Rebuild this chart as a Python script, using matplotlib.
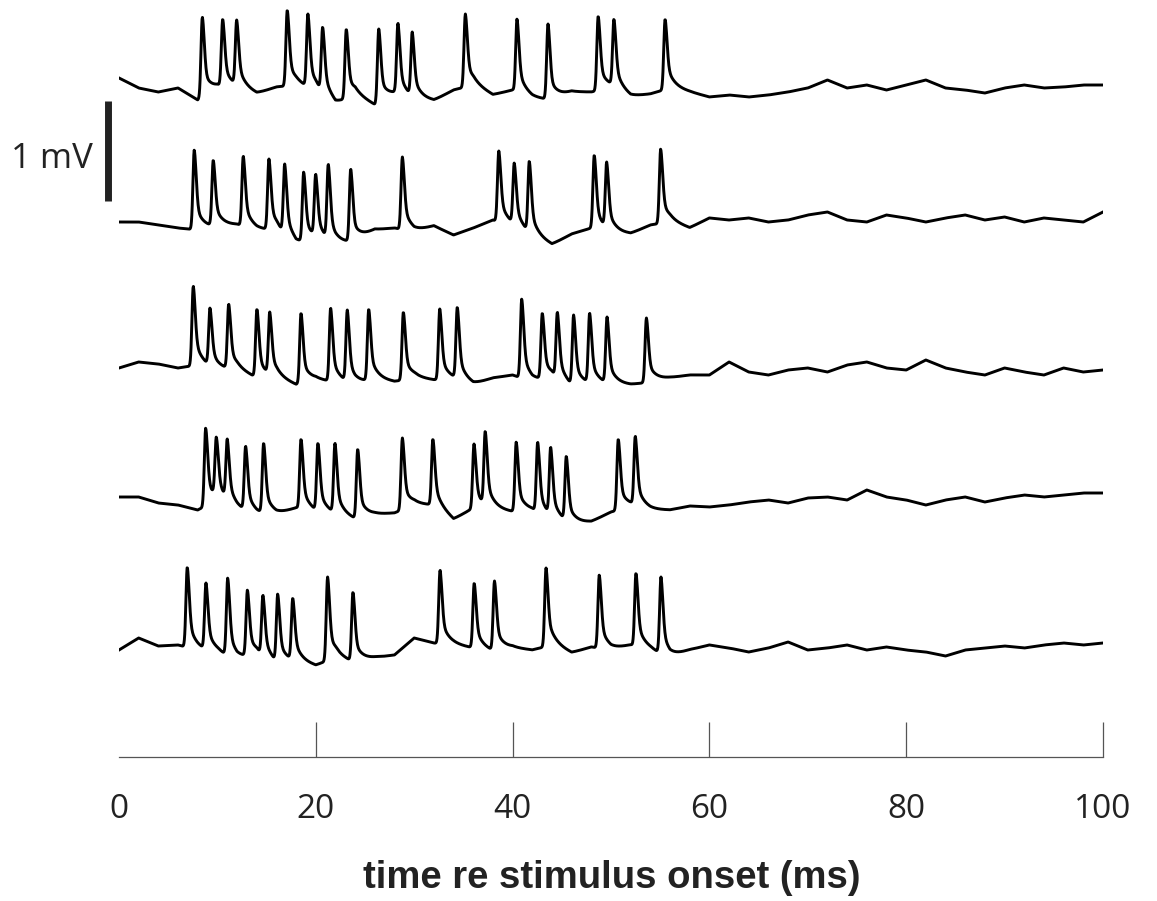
import numpy as np
import matplotlib
matplotlib.use("Agg")
import matplotlib.pyplot as plt

# ---------------- data ----------------
# baseline membrane potential samples (mV, relative to each trace's resting level)
base_t = list(range(0, 101, 2))

base_1 = [0.12, 0.02, -0.02, 0.02, -0.10, 0.02, 0.02, -0.04, 0.03, 0.05, 0.00, -0.15, -0.05,
          -0.15, -0.05, -0.10, -0.11, 0.00, 0.05, -0.05, 0.00, -0.08, -0.10, -0.02, -0.02, 0.02,
          -0.07, -0.04, 0.02, -0.02, -0.07, -0.05, -0.07, -0.05, -0.02, 0.02, 0.10, 0.02, 0.05,
          0.00, 0.05, 0.10, 0.02, 0.00, -0.03, 0.02, 0.05, 0.02, 0.03, 0.05, 0.05]
base_2 = [0.00, 0.00, -0.03, -0.06, -0.08, -0.05, -0.03, -0.08, -0.08, -0.23, -0.18, -0.23, -0.20,
          -0.08, -0.06, -0.10, -0.04, -0.13, -0.06, 0.02, -0.04, -0.15, -0.23, -0.12, -0.06, -0.12,
          -0.12, -0.03, 0.00, -0.06, 0.04, 0.02, 0.04, 0.00, 0.02, 0.07, 0.10, 0.02, 0.00, 0.07,
          0.04, 0.00, 0.04, 0.07, 0.02, 0.05, 0.00, 0.04, 0.02, 0.00, 0.10]
base_3 = [0.02, 0.08, 0.06, 0.02, 0.05, 0.00, 0.00, -0.08, -0.08, -0.15, -0.10, -0.12, -0.15,
          -0.10, -0.12, -0.08, -0.10, -0.10, -0.15, -0.08, -0.05, -0.12, -0.08, -0.18, -0.15, -0.15,
          -0.15, -0.12, -0.08, -0.05, -0.05, 0.08, -0.02, -0.05, 0.00, 0.02, -0.02, 0.05, 0.08,
          0.02, 0.00, 0.10, 0.02, -0.02, -0.05, 0.02, -0.02, -0.05, 0.02, -0.02, 0.00]
base_4 = [0.03, 0.03, -0.03, -0.05, -0.10, 0.00, -0.10, -0.15, -0.15, -0.08, -0.13, -0.15, -0.20,
          -0.15, -0.13, -0.05, -0.05, -0.20, -0.08, -0.10, -0.12, -0.11, -0.20, -0.25, -0.22, -0.12,
          -0.07, -0.10, -0.10, -0.06, -0.07, -0.05, -0.02, 0.00, -0.03, 0.02, 0.03, 0.00, 0.10,
          0.03, 0.00, -0.05, 0.00, 0.03, -0.02, 0.02, 0.05, 0.03, 0.05, 0.07, 0.07]
base_5 = [0.00, 0.12, 0.04, 0.05, 0.00, -0.03, -0.10, -0.05, -0.15, -0.12, -0.16, -0.07, -0.13,
          -0.08, -0.05, 0.12, 0.07, 0.05, 0.02, -0.02, 0.02, 0.00, 0.05, -0.03, 0.03, 0.00, 0.05,
          0.00, -0.08, 0.00, 0.05, 0.02, -0.02, 0.02, 0.08, 0.00, 0.02, 0.05, 0.00, 0.03, 0.00,
          -0.02, -0.06, 0.00, 0.02, 0.04, 0.02, 0.05, 0.07, 0.05, 0.07]

# spike times (ms) and spike peak potentials (mV, relative to resting level)
spk_t_1 = [8.47, 10.54, 11.96, 17.1, 19.2, 20.7, 23.1, 26.4, 28.35, 29.8, 35.2, 40.45, 43.6,
           48.7, 50.3, 55.5]
spk_v_1 = [0.73, 0.71, 0.70, 0.80, 0.76, 0.63, 0.61, 0.61, 0.67, 0.58, 0.76, 0.71, 0.66,
           0.74, 0.71, 0.71]
spk_t_2 = [7.65, 9.58, 12.63, 15.24, 16.84, 18.77, 19.99, 21.27, 23.55, 28.8, 38.6, 40.17,
           41.7, 48.3, 49.56, 55.05]
spk_v_2 = [0.72, 0.62, 0.66, 0.63, 0.58, 0.50, 0.48, 0.58, 0.53, 0.65, 0.71, 0.59, 0.61,
           0.67, 0.60, 0.73]
spk_t_3 = [7.55, 9.25, 11.15, 14.02, 15.32, 18.5, 21.51, 23.2, 25.38, 28.9, 32.6, 34.38,
           40.93, 43.02, 44.55, 46.2, 47.83, 49.6, 53.6]
spk_v_3 = [0.84, 0.62, 0.66, 0.61, 0.58, 0.57, 0.62, 0.60, 0.61, 0.58, 0.61, 0.63, 0.71,
           0.57, 0.58, 0.55, 0.57, 0.53, 0.52]
spk_t_4 = [8.81, 9.89, 11.0, 12.87, 14.7, 18.5, 20.22, 21.95, 24.26, 28.8, 31.9, 36.08,
           37.22, 40.37, 42.55, 43.87, 45.46, 50.74, 52.47]
spk_v_4 = [0.72, 0.63, 0.61, 0.54, 0.57, 0.61, 0.57, 0.57, 0.51, 0.62, 0.61, 0.56, 0.69,
           0.58, 0.58, 0.53, 0.44, 0.61, 0.64]
spk_t_5 = [6.94, 8.84, 11.05, 13.05, 14.63, 16.13, 17.66, 21.2, 23.78, 32.63, 36.1, 38.16,
           43.4, 48.81, 52.54, 55.08]
spk_v_5 = [0.83, 0.67, 0.72, 0.60, 0.55, 0.56, 0.52, 0.73, 0.58, 0.80, 0.67, 0.69, 0.82,
           0.75, 0.77, 0.73]

x_ticks = [0, 20, 40, 60, 80, 100]
x_tick_labels = ["0", "20", "40", "60", "80", "100"]
x_label = "time re stimulus onset (ms)"
scale_label = "1 mV"
scale_mv = 1.0

# ---------------- layout ----------------
W, H, DPI = 1157, 901, 100
trace_levels = [6.67, 5.35, 3.87, 2.57, 1.07]   # vertical placement of each sweep (mV units)

fig = plt.figure(figsize=(W / DPI, H / DPI), dpi=DPI)
fig.patch.set_facecolor("white")
ax = fig.add_axes([119 / W, (H - 757) / H, 984 / W, 757 / H])
ax.set_xlim(0, 100)
ax.set_ylim(0, 7.57)


def kernel(dt):
    """Spike waveform template (shape only, peak = 1 at dt = 0)."""
    k = np.zeros_like(dt)
    pre = (dt < 0) & (dt > -1.0)
    k[pre] = np.exp(-(dt[pre] / 0.19) ** 2)
    post = dt >= 0
    k[post] = 0.62 * np.exp(-(dt[post] / 0.28) ** 2) + 0.38 * np.exp(-dt[post] / 0.75)
    return k


t = np.arange(0, 100.001, 0.04)
bases = [base_1, base_2, base_3, base_4, base_5]
spk_ts = [spk_t_1, spk_t_2, spk_t_3, spk_t_4, spk_t_5]
spk_vs = [spk_v_1, spk_v_2, spk_v_3, spk_v_4, spk_v_5]

for lvl, b, st, sv in zip(trace_levels, bases, spk_ts, spk_vs):
    st = np.asarray(st)
    sv = np.asarray(sv)
    bl = np.interp(t, base_t, b)
    target = sv - np.interp(st, base_t, b)
    K = kernel(st[:, None] - st[None, :])
    amps = np.linalg.solve(K, target)
    v = bl.copy()
    for ts, a in zip(st, amps):
        v += a * kernel(t - ts)
    ax.plot(t, lvl + v, color="black", lw=2.1, solid_joinstyle="round")

# time axis: bottom spine with inward ticks
for s in ["left", "right", "top"]:
    ax.spines[s].set_visible(False)
ax.spines["bottom"].set_color("#555555")
ax.spines["bottom"].set_linewidth(0.9)
ax.set_yticks([])
ax.set_xticks(x_ticks)
ax.set_xticklabels(x_tick_labels, fontfamily="Open Sans", fontsize=24, color="#222222")
ax.tick_params(axis="x", direction="in", length=25, width=0.9, color="#555555", pad=26)
ax.xaxis.get_major_ticks()[0].tick1line.set_visible(False)

# scale bar
sb_x = -1.1
sb_top = (757 - 101) / 100
ax.plot([sb_x, sb_x], [sb_top - scale_mv, sb_top], color="#222222", lw=5, clip_on=False,
        solid_capstyle="butt")
ax.text(sb_x - 1.6, sb_top - scale_mv / 2 - 0.08, scale_label, ha="right", va="center",
        fontfamily="Open Sans", fontsize=25, color="#222222", clip_on=False)

fig.text(612 / W, (H - 878) / H, x_label, ha="center", va="center",
         fontfamily="Liberation Sans", fontweight="bold", fontsize=27.5, color="#222222")

fig.savefig("out.png", dpi=DPI, facecolor="white")
